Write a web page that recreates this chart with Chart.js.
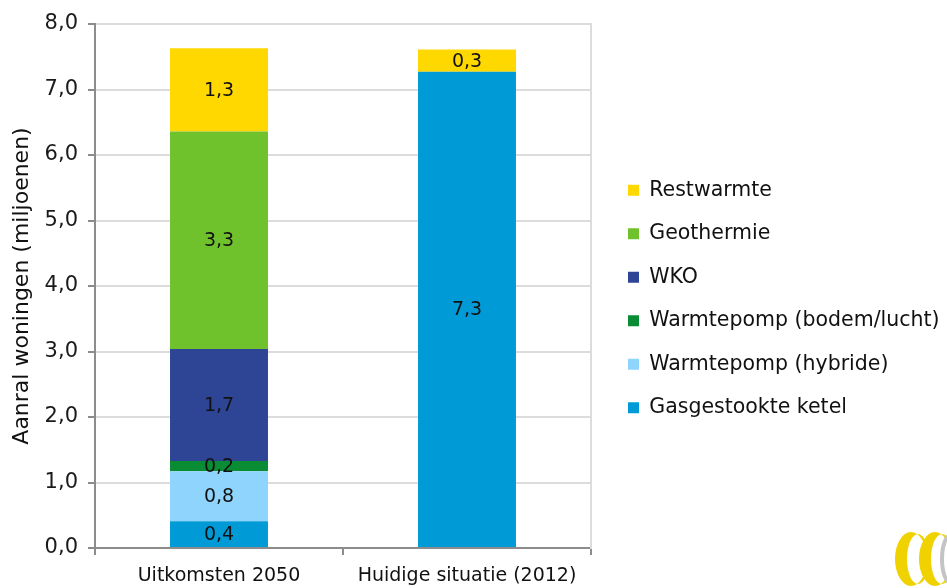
<!DOCTYPE html>
<html>
<head>
<meta charset="utf-8">
<script src="https://cdn.jsdelivr.net/npm/chart.js@4/dist/chart.umd.min.js"></script>
<style>
    html, body { margin: 0; padding: 0; background: #fff; }
    #canvasParent { width: 947px; height: 588px; position: relative; }
</style>
</head>
<body>
<div id="canvasParent"><canvas id="canvas"></canvas></div>
<script>
// categorieën op de x-as
const categories = ['Uitkomsten 2050', 'Huidige situatie (2012)'];

// aantal woningen per verwarmingstype (miljoenen)
const gasgestookteKetel = [0.41, 7.27];
const warmtepompHybride = [0.76, 0];
const warmtepompBodem = [0.16, 0];
const wko = [1.71, 0];
const geothermie = [3.32, 0];
const restwarmte = [1.27, 0.34];

// y-as
const yMin = 0;
const yMax = 8;
const yStep = 1;

const fontFamily = "'DejaVu Sans', Verdana, sans-serif";

// waarde met komma als decimaalteken
function fmt(v) {
    return v.toFixed(1).replace('.', ',');
}

// labels midden in elk segment
const segmentLabels = {
    id: 'segmentLabels',
    afterDatasetsDraw(chart) {
        const ctx = chart.ctx;
        ctx.save();
        ctx.font = '19px ' + fontFamily;
        ctx.fillStyle = '#111';
        ctx.textAlign = 'center';
        ctx.textBaseline = 'middle';
        chart.data.datasets.forEach((ds, i) => {
            const meta = chart.getDatasetMeta(i);
            meta.data.forEach((bar, j) => {
                const v = ds.data[j];
                if (!v) return;
                const p = bar.getProps(['x', 'y', 'base'], true);
                ctx.fillText(fmt(v), p.x, (p.y + p.base) / 2 + 1);
            });
        });
        ctx.restore();
    }
};

// logo rechtsonder
const logo = {
    id: 'logo',
    afterDraw(chart) {
        const ctx = chart.ctx;
        ctx.save();
        const rings = [[911, '#f0d200'], [935, '#f0d200']];
        rings.forEach(([cx, color]) => {
            ctx.beginPath();
            ctx.ellipse(cx, 559, 16, 27, 0, 0, Math.PI * 2);
            ctx.ellipse(cx + 7, 559, 11, 25, 0, 0, Math.PI * 2);
            ctx.fillStyle = color;
            ctx.fill('evenodd');
        });
        ctx.beginPath();
        ctx.ellipse(951, 559, 9, 24, 0, Math.PI * 0.5, Math.PI * 1.5);
        ctx.lineWidth = 4;
        ctx.strokeStyle = '#c4c4c4';
        ctx.stroke();
        ctx.restore();
    }
};

let canvas = document.getElementById('canvas');
const ctx = canvas.getContext('2d');

new Chart(ctx, {
    type: 'bar',
    data: {
        labels: categories,
        datasets: [
            { label: 'Gasgestookte ketel', data: gasgestookteKetel, backgroundColor: '#009bd6' },
            { label: 'Warmtepomp (hybride)', data: warmtepompHybride, backgroundColor: '#8fd4fc' },
            { label: 'Warmtepomp (bodem/lucht)', data: warmtepompBodem, backgroundColor: '#0a8c34' },
            { label: 'WKO', data: wko, backgroundColor: '#2e4595' },
            { label: 'Geothermie', data: geothermie, backgroundColor: '#70c22d' },
            { label: 'Restwarmte', data: restwarmte, backgroundColor: '#ffd800' }
        ]
    },
    options: {
        responsive: true,
        maintainAspectRatio: false,
        animation: false,
        layout: { padding: { top: 24, left: 0, right: 0, bottom: 0 } },
        datasets: {
            bar: { categoryPercentage: 1, barPercentage: 0.395, borderWidth: 0 }
        },
        plugins: {
            tooltip: { enabled: false },
            legend: {
                position: 'right',
                fullSize: false,
                reverse: true,
                maxWidth: 342,
                // lege titel als ruimte boven de legenda
                title: {
                    display: true,
                    text: ' ',
                    padding: 7,
                    font: { size: 10 }
                },
                labels: {
                    boxWidth: 11,
                    boxHeight: 11,
                    padding: 23,
                    color: '#111',
                    font: { family: fontFamily, size: 20.5 }
                }
            }
        },
        scales: {
            x: {
                stacked: true,
                afterFit: (s) => { s.height = 40; },
                grid: {
                    display: true,
                    drawOnChartArea: false,
                    drawTicks: true,
                    tickLength: 7,
                    color: '#8c8c8c',
                    lineWidth: 2
                },
                border: { color: '#8c8c8c', width: 2 },
                ticks: {
                    padding: 10,
                    color: '#111',
                    maxRotation: 0,
                    font: { family: fontFamily, size: 19 }
                }
            },
            y: {
                stacked: true,
                min: yMin,
                max: yMax,
                afterFit: (s) => { s.width = 95; },
                grid: {
                    color: '#dcdcdc',
                    lineWidth: 2,
                    tickColor: '#8c8c8c',
                    tickLength: 7
                },
                border: { color: '#8c8c8c', width: 2 },
                ticks: {
                    stepSize: yStep,
                    padding: 10,
                    color: '#1a1a1a',
                    font: { family: fontFamily, size: 21 },
                    callback: (v) => fmt(v)
                },
                title: {
                    display: true,
                    text: 'Aanral woningen (miljoenen)',
                    color: '#111',
                    padding: { top: 9, bottom: 0 },
                    font: { family: fontFamily, size: 22 }
                }
            },
            y2: {
                position: 'right',
                min: yMin,
                max: yMax,
                afterFit: (s) => { s.width = 14; },
                grid: { display: false },
                border: { color: '#dcdcdc', width: 2 },
                ticks: { display: false }
            }
        }
    },
    plugins: [segmentLabels, logo]
});
</script>
</body>
</html>
